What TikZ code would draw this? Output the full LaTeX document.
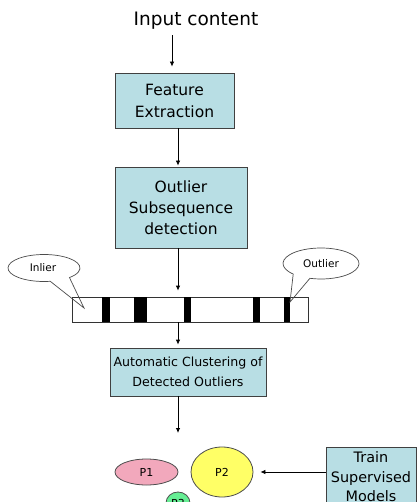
\documentclass[tikz,border=0pt]{standalone}
\usepackage{fontspec}
\setmainfont{DejaVu Sans}
\usetikzlibrary{arrows.meta,shapes.geometric}

\definecolor{boxcyan}{RGB}{184,222,228}
\definecolor{blobpink}{RGB}{242,168,188}
\definecolor{blobyellow}{RGB}{255,255,102}
\definecolor{blobgreen}{RGB}{102,238,148}

\tikzset{
  stage/.style={draw=black!75,fill=boxcyan,align=center,inner sep=0pt},
  blob/.style={ellipse,draw=black!70,inner sep=0pt,font=\fontsize{11}{13}\selectfont},
  callout/.style={draw=black!70,line width=0.7pt},
}

\begin{document}
\begin{tikzpicture}[x=1pt,y=-1pt,line width=0.8pt,>={Latex[length=5pt,width=4.5pt]}]
  \fill[white] (0,0) rectangle (417,502);
  \clip (0,0) rectangle (417,502);
  \coordinate (inlane) at (172,0);
  \coordinate (lane) at (178,0);

  % pipeline
  \node[font=\fontsize{18.5}{22}\selectfont] (input) at (196,21) {Input content};
  \node[stage,minimum width=119,minimum height=55,
        font=\fontsize{15.5}{22}\selectfont] (feat) at (174.5,100.5) {Feature\\Extraction};
  \node[stage,minimum width=132,minimum height=81,
        font=\fontsize{15.5}{21}\selectfont] (outl) at (181,207.5) {Outlier\\Subsequence\\detection};
  \node[draw=black!80,minimum width=236,minimum height=25,inner sep=0pt] (bar) at (190,309.5) {};
  \foreach \a/\b in {102/110,134/147,184/191,253/260,284/290}
    \fill (\a,297) rectangle (\b,322);
  \node[stage,minimum width=156,minimum height=48,
        font=\fontsize{12.6}{19.5}\selectfont] (clust) at (188,372) {Automatic Clustering of\\Detected Outliers};
  \coordinate (gather) at (178,433);

  % clusters
  \node[blob,fill=blobpink,minimum width=63,minimum height=26] (p1) at (146.5,472) {P1};
  \node[blob,fill=blobyellow,minimum width=62,minimum height=50] (p2) at (222,472) {P2};
  \node[blob,fill=blobgreen,minimum width=24,minimum height=22] (p3) at (178,503) {P3};
  \node[stage,anchor=north,minimum width=90,inner ysep=4.5pt,
        font=\fontsize{14.4}{19.5}\selectfont] (train) at (371,447) {Train\\Supervised\\Models};

  % callouts
  \draw[callout] (44,268) ++(80:36 and 13.5)
    arc[start angle=80,end angle=405,x radius=36,y radius=13.5] -- (84,308) -- cycle;
  \node[font=\fontsize{10.5}{12}\selectfont] (inl) at (43,268) {Inlier};
  \draw[callout] (321,263.5) ++(137:38 and 15.5)
    arc[start angle=137,end angle=467,x radius=38,y radius=15.5] -- (290,302) -- cycle;
  \node[font=\fontsize{10.5}{12}\selectfont] (outlabel) at (321,264) {Outlier};

  % arrows
  \draw[->,shorten <=2pt,shorten >=6pt] (input.south -| inlane) -- (feat.north -| inlane);
  \draw[->,shorten >=1pt] (feat.south -| lane) -- (outl.north -| lane);
  \draw[->,shorten >=6pt] (outl.south -| lane) -- (bar.north -| lane);
  \draw[->,shorten >=3pt] (bar.south -| lane) -- (clust.north -| lane);
  \draw[->] (clust.south -| lane) -- (gather);
  \draw[->,shorten >=7pt] (train.west |- p2.east) -- (p2.east);
\end{tikzpicture}
\end{document}
